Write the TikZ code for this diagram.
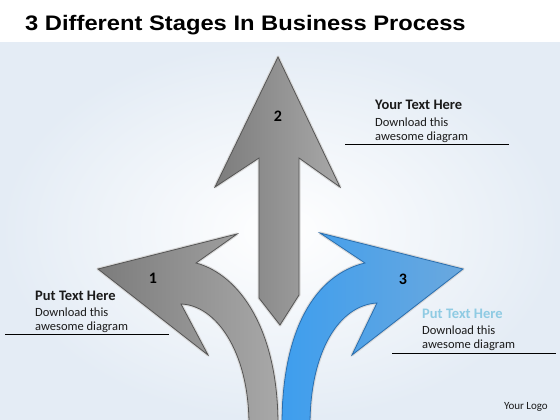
\documentclass[tikz,border=0pt]{standalone}
\usepackage{fontspec}
\setmainfont{Carlito}
\newfontfamily\titlefont{Liberation Sans}
\definecolor{bgblue}{HTML}{E4ECF5}
\definecolor{grayA}{HTML}{7C7C7C}
\definecolor{grayB}{HTML}{A8A8A8}
\definecolor{grayLine}{HTML}{555555}
\definecolor{halo}{HTML}{D8D8D8}
\definecolor{blueA}{HTML}{3E9EEE}
\definecolor{blueB}{HTML}{6AA8DE}
\definecolor{blueLine}{HTML}{2A6EAE}
\definecolor{lightblue}{HTML}{8FCBE3}
\definecolor{txt}{HTML}{1A1A1A}
\begin{document}
\begin{tikzpicture}[x=1pt,y=-1pt,
  grayarrow/.style={left color=grayA,right color=grayB,draw=grayLine,line width=0.8pt,line join=miter},
  bluearrow/.style={left color=blueA,right color=blueB,draw=blueLine,line width=0.8pt,line join=miter},
  haloline/.style={draw=halo,line width=3pt,line join=round},
  numlabel/.style={font=\fontsize{16}{18}\selectfont\bfseries,text=black},
  headtext/.style={anchor=west,font=\fontsize{14.5}{16}\selectfont\bfseries,text=txt,inner sep=0pt},
  bodytext/.style={anchor=west,font=\fontsize{12.5}{14}\selectfont,text=txt,inner sep=0pt},
  rule/.style={draw=black,line width=1pt}]
\useasboundingbox (0,0) rectangle (560,420);
\clip (0,0) rectangle (560,420);
% background
\fill[white] (0,0) rectangle (560,420);
\shade[inner color=white,outer color=bgblue] (0,42) rectangle (560,420);
\fill[white] (0,0) rectangle (560,42);
% title
\node[anchor=west,inner sep=0pt,font=\titlefont\fontsize{21}{24}\selectfont\bfseries] (title) at (25,25) {\scalebox{1.13}[1]{3 Different Stages In Business Process}};

% arrow 2 (up)
\def\arrowtwo{(278,57) -- (340,187) -- (299,158) -- (299,295) -- (280,325) -- (259,298) -- (259,158) -- (215,187) -- cycle}
\path[haloline] \arrowtwo;
\path[grayarrow] \arrowtwo;

% arrow 1 (left)
\def\arrowone{(98,269) -- (237,234) -- (196,263) .. controls (240,275) and (278,330) .. (278,425) -- (249,425) .. controls (249,350) and (215,305) .. (181,304) -- (208,355) -- cycle}
\path[haloline] \arrowone;
\path[grayarrow] \arrowone;

% arrow 3 (right, blue)
\def\arrowthree{(463,269) -- (320,233) -- (365,263) .. controls (315,275) and (282,330) .. (282,425) -- (310,425) .. controls (310,350) and (340,305) .. (377,303) -- (352,355) -- cycle}
\path[haloline] \arrowthree;
\path[bluearrow] \arrowthree;

% numbers
\node[numlabel] (n1) at (153,278) {1};
\node[numlabel] (n2) at (278,116) {2};
\node[numlabel] (n3) at (403,279) {3};

% top right text
\node[headtext] (t2h) at (375,105) {Your Text Here};
\node[bodytext] (t2a) at (375,122) {Download this};
\node[bodytext] (t2b) at (375,137) {awesome diagram};
\coordinate (r2a) at (345,144.5);
\coordinate (r2b) at (509,144.5);
\draw[rule] (r2a) -- (r2b);

% left text
\node[headtext] (t1h) at (35,295.5) {Put Text Here};
\node[bodytext] (t1a) at (35,312) {Download this};
\node[bodytext] (t1b) at (35,327) {awesome diagram};
\coordinate (r1a) at (5,334.5);
\coordinate (r1b) at (169,334.5);
\draw[rule] (r1a) -- (r1b);

% right text
\node[headtext,text=lightblue] (t3h) at (422,314) {Put Text Here};
\node[bodytext] (t3a) at (422,330.5) {Download this};
\node[bodytext] (t3b) at (422,345.5) {awesome diagram};
\coordinate (r3a) at (392,353);
\coordinate (r3b) at (556,353);
\draw[rule] (r3a) -- (r3b);

% logo
\node[anchor=east,inner sep=0pt,font=\fontsize{11}{13}\selectfont,text=txt] (logo) at (548,407) {Your Logo};
\end{tikzpicture}
\end{document}
